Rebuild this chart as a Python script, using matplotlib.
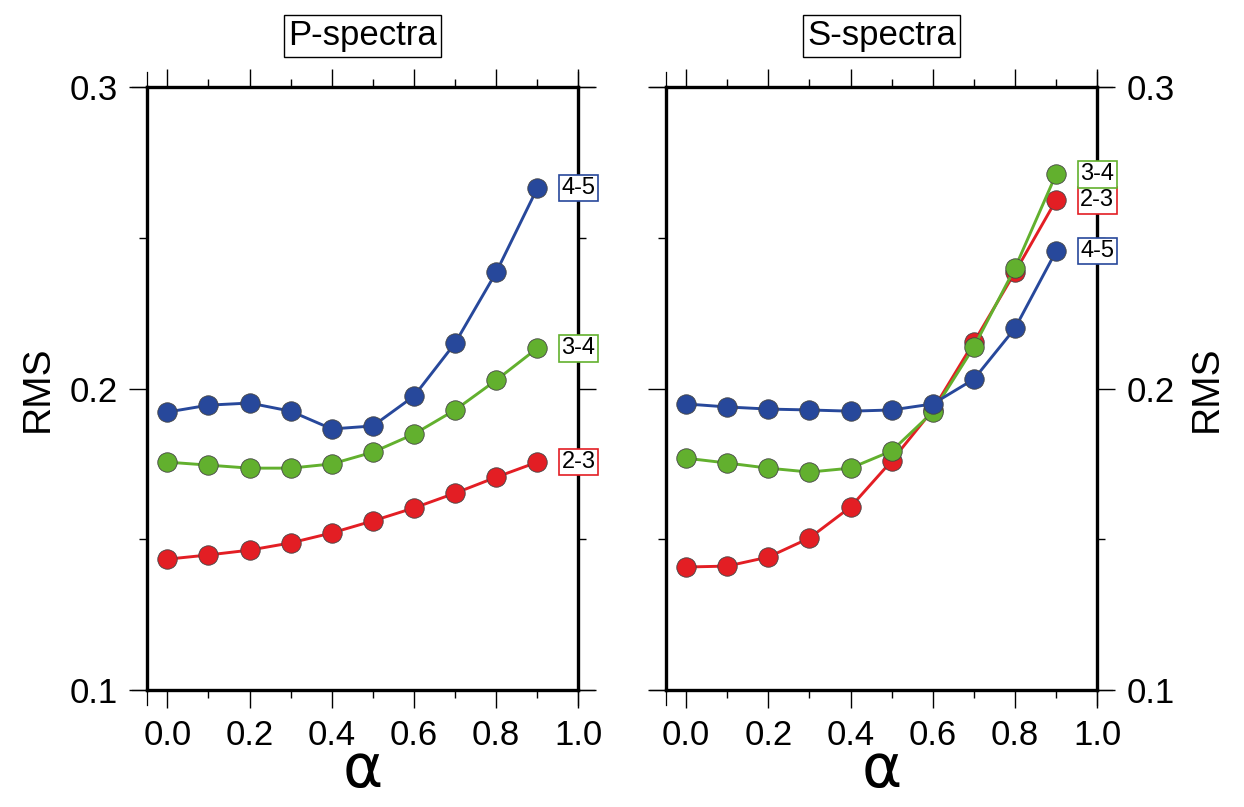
import numpy as np
import matplotlib.pyplot as plt

plt.rcParams['font.family'] = ['Liberation Sans', 'DejaVu Sans']

# alpha values
alpha = [0.0, 0.1, 0.2, 0.3, 0.4, 0.5, 0.6, 0.7, 0.8, 0.9]

# P-spectra RMS
p_23 = [0.1434, 0.1448, 0.1464, 0.1488, 0.1521, 0.1561, 0.1604, 0.1653, 0.1706, 0.1756]
p_34 = [0.1756, 0.1746, 0.1736, 0.1736, 0.1750, 0.1789, 0.1849, 0.1929, 0.2028, 0.2134]
p_45 = [0.1922, 0.1945, 0.1952, 0.1925, 0.1866, 0.1876, 0.1975, 0.2151, 0.2386, 0.2665]

# S-spectra RMS
s_23 = [0.1408, 0.1411, 0.1441, 0.1504, 0.1607, 0.1760, 0.1929, 0.2154, 0.2386, 0.2625]
s_34 = [0.1769, 0.1753, 0.1736, 0.1723, 0.1736, 0.1793, 0.1922, 0.2138, 0.2400, 0.2711]
s_45 = [0.1949, 0.1939, 0.1932, 0.1929, 0.1925, 0.1929, 0.1949, 0.2031, 0.2200, 0.2456]

names = ['2-3', '3-4', '4-5']
colors = ['#e31e24', '#62b02e', '#27489b']

fig = plt.figure(figsize=(12.44, 8.07), dpi=100)
ax1 = fig.add_axes([0.118, 0.145, 0.347, 0.747])
ax2 = fig.add_axes([0.535, 0.145, 0.347, 0.747])


def draw_panel(ax, series, title, right=False):
    # draw series
    for ys, c in zip(series, colors):
        ax.plot(alpha, ys, '-', color=c, lw=2.1, marker='o', ms=14,
                mfc=c, mec='#444444', mew=0.6, zorder=3)
    for ys, c, n in zip(series, colors, names):
        ax.text(1.0, ys[-1], n, ha='center', va='center', fontsize=17,
                zorder=5, clip_on=False,
                bbox=dict(boxstyle='square,pad=0.1', fc='white', ec=c, lw=1.2))

    ax.set_xlim(-0.05, 1.0)
    ax.set_ylim(0.1, 0.3)
    ax.set_xticks(np.arange(0, 1.01, 0.2))
    ax.set_xticks(np.arange(0.1, 1.0, 0.2), minor=True)
    ax.set_xticklabels(['0.0', '0.2', '0.4', '0.6', '0.8', '1.0'])
    ax.set_yticks([0.1, 0.2, 0.3])
    ax.set_yticks([0.15, 0.25], minor=True)
    ax.set_yticklabels(['0.1', '0.2', '0.3'])

    ax.tick_params(which='both', direction='out', top=True, right=True,
                   width=1.0, labelsize=25, pad=8)
    ax.tick_params(which='major', length=13)
    ax.tick_params(which='minor', length=6)
    if right:
        ax.tick_params(axis='y', labelleft=False, labelright=True)
        ax.yaxis.set_label_position('right')
    for s in ax.spines.values():
        s.set_linewidth(2.4)

    # thin GMT-like axis lines that stick out past the frame corners
    ext = 0.035
    kw = dict(transform=ax.transAxes, color='black', lw=0.9, clip_on=False)
    ax.plot([-ext, 1 + ext], [0, 0], **kw)
    ax.plot([-ext, 1 + ext], [1, 1], **kw)
    ax.plot([0, 0], [-ext * 0.7, 1 + ext * 0.7], **kw)
    ax.plot([1, 1], [-ext * 0.7, 1 + ext * 0.7], **kw)

    ax.set_ylabel('RMS', fontsize=28, labelpad=10)
    ax.set_xlabel('α', fontsize=44, labelpad=-8, family='DejaVu Sans')
    ax.set_title(title, fontsize=25, pad=30,
                 bbox=dict(boxstyle='square,pad=0.12', fc='white', ec='black', lw=1.0))


draw_panel(ax1, [p_23, p_34, p_45], 'P-spectra')
draw_panel(ax2, [s_23, s_34, s_45], 'S-spectra', right=True)

fig.savefig('out.png', dpi=100)
